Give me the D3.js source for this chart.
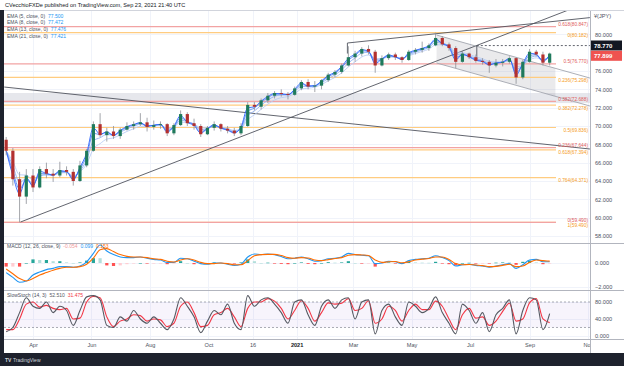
<!DOCTYPE html>
<html><head><meta charset="utf-8">
<script src="https://cdn.jsdelivr.net/npm/d3@7"></script>
<style>body{margin:0;background:#fff;} svg{display:block;font-family:"Liberation Sans",Arial,sans-serif;}</style>
</head><body><svg id="c" width="624" height="366"></svg>
<script>
// ---------------- DATA ----------------
const firstWeek = "2020-03-02", lastWeek = "2021-09-20";
const opens = [68.5,67.3,64.2,62.3,64.6,63.3,65.3,64.8,64.6,65.2,65.0,64.0,65.7,67.3,70.2,69.0,69.4,68.9,69.6,70.0,70.2,70.4,69.9,70.1,70.2,69.2,70.1,71.3,70.3,70.0,69.1,69.8,70.2,69.7,69.5,69.2,70.0,72.3,72.1,72.8,73.3,73.6,73.5,73.4,74.1,74.8,74.3,74.4,75.0,75.6,75.9,76.6,77.5,77.9,78.4,78.1,76.6,77.4,77.8,77.5,77.2,78.1,78.3,78.5,78.8,79.6,78.9,78.5,77.0,77.9,77.5,77.1,77.0,76.6,76.9,77.0,77.4,75.3,77.0,78.1,77.8,76.9];
const highs = [68.8,67.6,65.0,65.3,65.3,65.6,66.0,65.3,66.1,65.6,65.3,66.2,67.5,70.5,71.4,69.8,70.0,69.8,70.4,70.5,71.4,70.9,70.6,70.5,70.3,70.3,71.7,71.5,70.8,70.2,70.0,70.5,70.3,70.0,69.8,70.3,72.6,72.6,73.0,73.6,73.8,74.0,73.7,74.3,75.0,75.1,74.9,75.1,75.8,76.1,76.8,78.7,78.2,78.6,78.8,78.3,77.7,78.0,78.0,77.6,78.3,78.5,79.2,79.0,80.18,79.8,79.1,78.7,78.2,78.0,77.8,77.4,77.2,77.3,77.3,77.6,77.5,77.2,78.4,78.3,78.1,78.0];
const lows = [66.8,63.5,59.49,61.5,62.8,63.2,64.3,63.9,64.4,64.6,63.5,63.9,65.5,67.2,68.8,68.3,68.6,68.6,69.5,69.6,70.0,69.4,69.6,69.7,68.9,69.0,70.0,70.0,69.6,68.8,69.0,69.5,69.4,69.2,68.9,69.0,69.9,71.7,71.8,72.5,73.0,73.2,72.9,73.3,73.9,74.0,73.7,74.0,74.8,75.3,75.7,76.5,77.0,77.6,77.8,75.8,76.5,77.2,77.2,76.9,77.1,77.8,78.0,78.2,78.7,78.7,78.2,76.3,76.9,77.3,76.9,76.7,75.8,76.4,76.5,76.8,74.6,75.1,76.9,77.6,76.6,76.6];
const closes = [67.3,64.2,62.3,64.6,63.3,65.3,64.8,64.6,65.2,65.0,64.0,65.7,67.3,70.2,69.0,69.4,68.9,69.6,70.0,70.2,70.4,69.9,70.1,70.2,69.2,70.1,71.3,70.3,70.0,69.1,69.8,70.2,69.7,69.5,69.2,70.0,72.3,72.1,72.8,73.3,73.6,73.5,73.4,74.1,74.8,74.3,74.4,75.0,75.6,75.9,76.6,77.5,77.9,78.4,78.1,76.6,77.4,77.8,77.5,77.2,78.1,78.3,78.5,78.8,79.6,78.9,78.5,77.0,77.9,77.5,77.1,77.0,76.6,76.9,77.0,77.4,75.3,77.0,78.1,77.8,76.9,77.899];
const macdLine = [-0.8,-1.2,-1.6,-1.5,-1.0,-0.75,-0.55,-0.45,-0.3,-0.3,-0.35,-0.25,0.1,0.8,1.5,1.0,0.7,0.5,0.45,0.45,0.5,0.4,0.3,0.25,0.05,0.05,0.4,0.35,0.15,-0.05,-0.1,0.0,0.0,-0.1,-0.2,-0.1,0.5,0.75,0.7,0.75,0.7,0.55,0.35,0.4,0.5,0.35,0.15,0.2,0.35,0.4,0.5,0.8,0.7,0.65,0.6,-0.05,0.0,0.15,0.1,-0.05,0.2,0.3,0.35,0.4,0.6,0.45,0.2,-0.25,-0.15,-0.1,-0.2,-0.25,-0.35,-0.25,-0.15,-0.05,-0.45,-0.15,0.25,0.3,0.1,0.099];
const signalLine = [-0.5,-0.9,-1.3,-1.5,-1.3,-1.0,-0.8,-0.6,-0.45,-0.35,-0.35,-0.3,-0.1,0.4,1.1,1.2,0.95,0.7,0.55,0.5,0.5,0.45,0.35,0.3,0.15,0.08,0.25,0.35,0.25,0.05,-0.05,-0.05,0.0,-0.05,-0.15,-0.15,0.2,0.6,0.7,0.72,0.72,0.62,0.45,0.4,0.45,0.42,0.25,0.2,0.28,0.37,0.45,0.65,0.7,0.67,0.62,0.25,0.05,0.1,0.12,0.02,0.1,0.25,0.32,0.38,0.5,0.5,0.3,-0.05,-0.15,-0.12,-0.17,-0.22,-0.3,-0.28,-0.2,-0.1,-0.3,-0.25,0.05,0.25,0.2,0.153];
const stochK = [10,20,55,90,70,65,80,55,70,60,25,60,92,95,85,25,20,45,35,60,40,30,45,30,15,40,90,70,45,8,35,60,50,75,30,15,95,70,85,90,75,55,30,80,85,50,25,70,85,65,85,90,40,80,85,5,60,75,45,25,80,70,55,65,92,55,30,5,75,60,30,55,10,50,65,85,5,60,90,85,15,52.51];
const stochD = [15,15,40,75,80,68,72,65,62,65,40,42,80,93,90,45,22,35,40,50,48,35,40,38,22,30,70,80,55,22,25,50,55,65,45,22,65,80,80,88,82,65,40,60,83,65,35,55,78,75,77,88,60,65,83,30,40,70,60,35,60,75,62,62,82,70,40,15,50,65,42,45,25,35,58,77,35,40,78,88,40,31.475];
const fibOrangeLevels = ["0","0.236","0.382","0.5","0.618","0.764","1"];
const fibOrangeValues = [80.182,75.298,72.278,69.836,67.394,64.371,59.490];
const fibRedLevels = ["0","0.236","0.382","0.5","0.618"];
const fibRedValues = [59.490,67.644,72.688,76.770,80.847];
const zoneBand = [72.5,73.6];
const priceTicks = [80,76,74,72,70,68,66,64,62,60,58];
const macdTicks = [0,-2];
const stochTicks = [80,40,0];
const timeTicks = ["2020-04-01","2020-06-01","2020-08-01","2020-10-01","2020-11-16","2021-01-01","2021-03-01","2021-05-01","2021-07-01","2021-09-01","2021-11-01"];
const timeLabels = ["Apr","Jun","Aug","Oct","16","2021","Mar","May","Jul","Sep","Nov"];
const emaPeriods = [5,8,13,21];
const emaLastValues = ["77.500","77.472","77.476","77.421"];
const trendLines = [
  [["2020-03-02",74.25],["2021-11-03",67.49]],
  [["2020-03-19",59.53],["2021-10-18",82.91]],
  [["2021-02-23",79.05],["2021-11-03",81.82]],
  [["2021-02-23",79.05],["2021-02-23",77.9]],
  [["2021-05-27",79.92],["2021-11-03",75.23]],
  [["2021-05-27",76.87],["2021-11-03",72.18]],
  [["2021-07-08",78.77],["2021-07-08",77.3]]
];
const channel = [["2021-05-27",79.92],["2021-09-28",76.29],["2021-09-28",73.24],["2021-05-27",76.87]];
const resistanceLine = [["2021-07-08",78.77],["2021-11-03",78.77]];
const lastMarks = [{v:78.770,label:"78.770",bg:"#131722"},{v:77.899,label:"77.899",bg:"#ef5350"}];

// ---------------- LAYOUT ----------------
const X0=4,X1=590,PB=243,MB=290,SB=339,TB=353;
const svg=d3.select("#c");
const pd=d3.timeParse("%Y-%m-%d");
const weeks=d3.timeMonday.range(pd(firstWeek),d3.timeDay.offset(pd(lastWeek),1));
const bars=weeks.map((d,i)=>({d:d3.timeDay.offset(d,2),o:opens[i],h:highs[i],l:lows[i],c:closes[i]}));
const x=d3.scaleTime().domain([new Date(2020,3,1),new Date(2021,10,1)]).range([33,588]);
const yP=d3.scaleLinear().domain([57.24,82.65]).range([PB,10]);
const yM=d3.scaleLinear().domain([-2.25,1.667]).range([MB,PB]);
const yS=d3.scaleLinear().domain([-7.06,108.2]).range([SB,MB]);

svg.append("rect").attr("width",624).attr("height",366).attr("fill","#fff");
const defs=svg.append("defs");
defs.append("clipPath").attr("id","cp").append("rect").attr("x",X0).attr("y",10).attr("width",X1-X0).attr("height",PB-10);
defs.append("clipPath").attr("id","cm").append("rect").attr("x",X0).attr("y",PB).attr("width",X1-X0).attr("height",MB-PB);
defs.append("clipPath").attr("id","cs").append("rect").attr("x",X0).attr("y",MB).attr("width",X1-X0).attr("height",SB-MB);
defs.append("clipPath").attr("id","ct").append("rect").attr("x",X0).attr("y",SB).attr("width",X1-X0).attr("height",TB-SB);

// grid
const grid=svg.append("g").attr("stroke","#f0f3fa").attr("stroke-width",1);
timeTicks.forEach(t=>grid.append("line").attr("x1",Math.round(x(pd(t)))+0.5).attr("x2",Math.round(x(pd(t)))+0.5).attr("y1",10).attr("y2",SB));
priceTicks.forEach(v=>grid.append("line").attr("x1",X0).attr("x2",X1).attr("y1",Math.round(yP(v))+0.5).attr("y2",Math.round(yP(v))+0.5));
macdTicks.forEach(v=>grid.append("line").attr("x1",X0).attr("x2",X1).attr("y1",Math.round(yM(v))+0.5).attr("y2",Math.round(yM(v))+0.5));
stochTicks.forEach(v=>grid.append("line").attr("x1",X0).attr("x2",X1).attr("y1",Math.round(yS(v))+0.5).attr("y2",Math.round(yS(v))+0.5));

// price pane
const gp=svg.append("g").attr("clip-path","url(#cp)");
gp.append("rect").attr("x",X0).attr("width",X1-X0).attr("y",yP(zoneBand[1])).attr("height",yP(zoneBand[0])-yP(zoneBand[1])).attr("fill","#d1d4dc").attr("opacity",0.55);
gp.append("path").attr("d",d3.line().x(p=>x(pd(p[0]))).y(p=>yP(p[1]))(channel)+"Z").attr("fill","#9598a1").attr("opacity",0.2);
const fibX2=556;
fibOrangeValues.forEach(v=>gp.append("line").attr("x1",X0).attr("x2",fibX2).attr("y1",yP(v)).attr("y2",yP(v)).attr("stroke","#ffcc80").attr("stroke-width",1.2));
fibRedValues.forEach(v=>gp.append("line").attr("x1",X0).attr("x2",fibX2).attr("y1",yP(v)).attr("y2",yP(v)).attr("stroke","#f2a3a3").attr("stroke-width",1.2));
trendLines.forEach((l,i)=>gp.append("line").attr("x1",x(pd(l[0][0]))).attr("y1",yP(l[0][1])).attr("x2",x(pd(l[1][0]))).attr("y2",yP(l[1][1])).attr("stroke",(i===4||i===5)?"#a3a6af":"#50535e").attr("stroke-width",0.9));
gp.append("line").attr("x1",x(pd(resistanceLine[0][0]))).attr("x2",x(pd(resistanceLine[1][0]))).attr("y1",yP(resistanceLine[0][1])).attr("y2",yP(resistanceLine[1][1])).attr("stroke","#50535e").attr("stroke-dasharray","2,2").attr("stroke-width",0.9);

// EMAs
const alphaW=n=>1-Math.pow(1-2/(n+1),5);
const emaColors=["#2962ff","#5b8cf0","#8eb0f3","#b9cdf5"];
emaPeriods.slice().reverse().forEach((n,j)=>{
  const a=alphaW(n); let prev=closes[0];
  const vals=closes.map((c,i)=>{prev=i?a*c+(1-a)*prev:c;return prev;});
  gp.append("path").attr("d",d3.line().curve(d3.curveMonotoneX).x((v,i)=>x(bars[i].d)).y(v=>yP(v))(vals)).attr("fill","none").attr("stroke",emaColors[3-j]).attr("stroke-width",0.9);
});
// candles
const up="#1f7a5c",dn="#b3302f";
const cg=gp.append("g");
bars.forEach(b=>{
  const cx=x(b.d);
  cg.append("line").attr("x1",cx).attr("x2",cx).attr("y1",yP(b.h)).attr("y2",yP(b.l)).attr("stroke","#8d8f96").attr("stroke-width",0.8);
  const y1=yP(Math.max(b.o,b.c)),y2=yP(Math.min(b.o,b.c));
  cg.append("rect").attr("x",cx-1.6).attr("width",3.2).attr("y",y1).attr("height",Math.max(1,y2-y1)).attr("fill",b.c>=b.o?up:dn);
});
// fib labels (red above line, orange below line)
const fl=svg.append("g").attr("font-size",4.8).attr("text-anchor","end");
fibRedValues.forEach((v,i)=>fl.append("text").attr("x",588).attr("y",yP(v)-0.8).attr("fill","#e05c5c").text(fibRedLevels[i]+"("+v.toFixed(3)+")"));
fibOrangeValues.forEach((v,i)=>fl.append("text").attr("x",588).attr("y",yP(v)+4.6).attr("fill","#f59b1c").text(fibOrangeLevels[i]+"("+v.toFixed(3)+")"));

// MACD pane
const gm=svg.append("g").attr("clip-path","url(#cm)");
bars.forEach((b,i)=>{
  const h=macdLine[i]-signalLine[i], hp=i?macdLine[i-1]-signalLine[i-1]:0;
  const col=h>=0?(h>=hp?"#26a69a":"#b2dfdb"):(h<hp?"#ff5252":"#ffcdd2");
  gm.append("rect").attr("x",x(b.d)-1.6).attr("width",3.2).attr("y",yM(Math.max(0,h))).attr("height",Math.max(0.6,Math.abs(yM(h)-yM(0)))).attr("fill",col);
});
const lm=d3.line().curve(d3.curveMonotoneX).x((v,i)=>x(bars[i].d));
gm.append("path").attr("d",lm.y(v=>yM(v))(macdLine)).attr("fill","none").attr("stroke","#2196f3").attr("stroke-width",1.1);
gm.append("path").attr("d",lm.y(v=>yM(v))(signalLine)).attr("fill","none").attr("stroke","#ff6d00").attr("stroke-width",1.1);

// Stoch pane
const gs=svg.append("g").attr("clip-path","url(#cs)");
gs.append("rect").attr("x",X0).attr("width",X1-X0).attr("y",yS(80)).attr("height",yS(20)-yS(80)).attr("fill","#9c6fd6").attr("opacity",0.08);
[80,20].forEach(v=>gs.append("line").attr("x1",X0).attr("x2",X1).attr("y1",yS(v)).attr("y2",yS(v)).attr("stroke","#9598a1").attr("stroke-dasharray","2,2").attr("stroke-width",0.8));
gs.append("path").attr("d",lm.y(v=>yS(v))(stochD)).attr("fill","none").attr("stroke","#f23645").attr("stroke-width",1.1);
gs.append("path").attr("d",lm.y(v=>yS(v))(stochK)).attr("fill","none").attr("stroke","#555962").attr("stroke-width",1.1);

// legends
const lg=svg.append("g").attr("font-size",5);
emaPeriods.forEach((n,i)=>{
  const t=lg.append("text").attr("x",7).attr("y",17.5+i*6.7);
  t.append("tspan").attr("fill","#4c525e").text(`EMA (${n}, close, 0)`);
  t.append("tspan").attr("fill","#2196f3").attr("dx",3).text(emaLastValues[i]);
});
const ml=lg.append("text").attr("x",7).attr("y",248);
ml.append("tspan").attr("fill","#4c525e").text("MACD (12, 26, close, 9)");
ml.append("tspan").attr("fill","#ef9a9a").attr("dx",3).text((macdLine[81]-signalLine[81]).toFixed(3));
ml.append("tspan").attr("fill","#2196f3").attr("dx",3).text(macdLine[81].toFixed(3));
ml.append("tspan").attr("fill","#ff6d00").attr("dx",3).text(signalLine[81].toFixed(3));
const sl=lg.append("text").attr("x",7).attr("y",297);
sl.append("tspan").attr("fill","#4c525e").text("SlowStoch (14, 3)");
sl.append("tspan").attr("fill","#555962").attr("dx",3).text(stochK[81].toFixed(3));
sl.append("tspan").attr("fill","#f23645").attr("dx",3).text(stochD[81].toFixed(3));

// frames
const fr=svg.append("g").attr("stroke","#b2b5be").attr("stroke-width",1);
[PB,MB].forEach(yv=>fr.append("line").attr("x1",X0).attr("x2",624).attr("y1",yv+0.5).attr("y2",yv+0.5));
fr.append("line").attr("x1",X0).attr("x2",624).attr("y1",SB+0.5).attr("y2",SB+0.5);
fr.append("line").attr("x1",X1+0.5).attr("x2",X1+0.5).attr("y1",10).attr("y2",TB);
fr.append("line").attr("x1",0).attr("x2",624).attr("y1",10.5).attr("y2",10.5).attr("stroke","#d1d4dc");

// axes
function styleAxis(g){g.select(".domain").remove();g.selectAll("text").attr("fill","#4c525e").attr("font-size",5.6).attr("font-family","Liberation Sans, Arial, sans-serif");}
svg.append("g").attr("transform",`translate(${X1},0)`).call(d3.axisRight(yP).tickValues(priceTicks).tickSize(0).tickPadding(5).tickFormat(d3.format(".3f"))).call(styleAxis);
svg.append("g").attr("transform",`translate(${X1},0)`).call(d3.axisRight(yM).tickValues(macdTicks).tickSize(0).tickPadding(5).tickFormat(d3.format(".3f"))).call(styleAxis);
svg.append("g").attr("transform",`translate(${X1},0)`).call(d3.axisRight(yS).tickValues(stochTicks).tickSize(0).tickPadding(5).tickFormat(d3.format(".3f"))).call(styleAxis);
svg.append("text").attr("x",594).attr("y",18).attr("font-size",5.6).attr("fill","#4c525e").text("¥(JPY)");
lastMarks.forEach((m,i)=>{
  const yy=i===0?40.5:50.8;
  svg.append("rect").attr("x",X1+1).attr("y",yy).attr("width",31).attr("height",10).attr("fill",m.bg);
  svg.append("text").attr("x",594).attr("y",yy+7.3).attr("font-size",6).attr("font-weight","bold").attr("fill","#fff").text(m.label);
});
const tg=svg.append("g").attr("clip-path","url(#ct)");
tg.append("g").attr("transform",`translate(0,${SB})`).call(d3.axisBottom(x).tickValues(timeTicks.map(pd)).tickSize(0).tickPadding(4).tickFormat((d,i)=>timeLabels[i])).call(styleAxis)
  .selectAll("text").attr("font-weight",(d,i)=>timeLabels[i]==="2021"?"bold":"normal").attr("fill",(d,i)=>timeLabels[i]==="2021"?"#131722":"#4c525e");

// chrome
svg.append("rect").attr("x",0).attr("y",10).attr("width",X0).attr("height",356).attr("fill","#1e222d");
svg.append("rect").attr("x",0).attr("y",TB).attr("width",624).attr("height",366-TB).attr("fill","#1e222d");
svg.append("text").attr("x",5).attr("y",361.5).attr("font-size",5).attr("fill","#d1d4dc").attr("font-weight","bold").text("TV");
svg.append("text").attr("x",13).attr("y",361.5).attr("font-size",5).attr("fill","#d1d4dc").text("TradingView");
svg.append("text").attr("x",5).attr("y",6.5).attr("font-size",5.6).attr("fill","#131722").text("CVecchioFXDe published on TradingView.com, Sep 23, 2021 21:40 UTC");
</script></body></html>
